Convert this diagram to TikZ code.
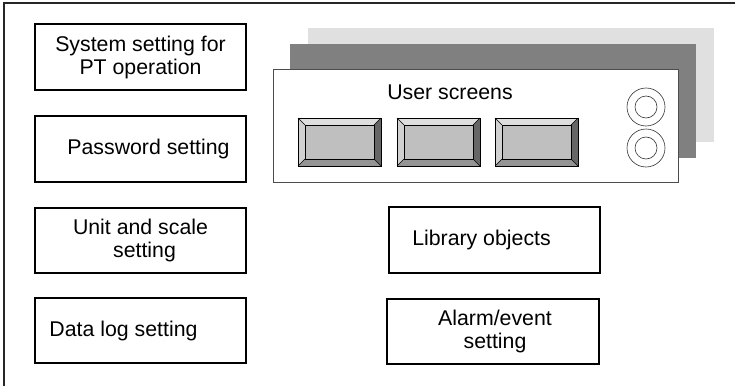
\documentclass[tikz,border=0pt]{standalone}
\usepackage{fontspec}
\setmainfont{Liberation Sans}
\usepackage{tikz}

\newcommand{\lbl}{\fontsize{21.3}{23}\selectfont}

\begin{document}
\begin{tikzpicture}[x=1pt,y=-1pt,thick]
    \tikzstyle{setbox}=[draw=black, line width=1.3pt, minimum width=211pt, minimum height=66pt, align=center, inner sep=0pt, font=\lbl]
    \tikzstyle{panel}=[draw=black!70, line width=0.8pt, fill=white, minimum width=405pt, minimum height=113pt, inner sep=0pt]
    \tikzstyle{knob}=[draw=black!80, line width=0.6pt]

    \useasboundingbox (0,0) rectangle (735,385);
    \clip (0,0) rectangle (735,385);

    % outer frame, only top and left edges show
    \draw[line width=1.5pt, black!85] (4,3) rectangle (760,400);

    % setting boxes on the left
    \node[setbox] (sys) at (140.5,57) {System setting for\\PT operation};
    \node[setbox] (pwd) at (140.5,149) {\hspace*{16pt}Password setting};
    \node[setbox, minimum height=65pt] (unit) at (140.5,240.5) {Unit and scale\\\hspace*{8pt}setting};
    \node[setbox, minimum height=65pt] (dlog) at (140.5,330.5) {Data log setting\hspace*{34pt}};

    % boxes on the right
    \node[setbox] (lib) at (494.5,240) {Library objects\hspace*{26pt}};
    \node[setbox, minimum width=212pt, minimum height=65pt] (alarm) at (493,331.5) {\hspace*{4pt}Alarm/event\\\hspace*{4pt}setting};

    % stack of user screens
    \fill[black!12] (308,28) rectangle (714,142);
    \fill[black!50] (290,44) rectangle (696,158);
    \node[panel] (front) at (475.5,125.5) {};
    \node[font=\lbl, inner sep=0pt] (title) at (450,92) {User screens};

    \foreach \x in {298,397,495} {
        \fill[black!13] (\x,118) -- (\x+83,118) -- (\x+76,125) -- (\x+7,125) -- cycle;
        \fill[black!18] (\x,118) -- (\x+7,125) -- (\x+7,159) -- (\x,166) -- cycle;
        \fill[black!60] (\x+83,118) -- (\x+83,166) -- (\x+76,159) -- (\x+76,125) -- cycle;
        \fill[black!42] (\x,166) -- (\x+83,166) -- (\x+76,159) -- (\x+7,159) -- cycle;
        \draw[line width=0.7pt, fill=black!25] (\x+7,125) rectangle (\x+76,159);
        \draw[line width=0.6pt] (\x,118) -- (\x+7,125) (\x+83,118) -- (\x+76,125)
            (\x,166) -- (\x+7,159) (\x+83,166) -- (\x+76,159);
        \draw[line width=1pt] (\x,118) rectangle (\x+83,166);
    }

    \foreach \y/\n in {107/a,148/b} {
        \node[knob, circle, minimum size=38pt, inner sep=0pt] (knob\n) at (646,\y) {};
        \draw[knob] (knob\n.center) circle (11);
    }
\end{tikzpicture}
\end{document}
